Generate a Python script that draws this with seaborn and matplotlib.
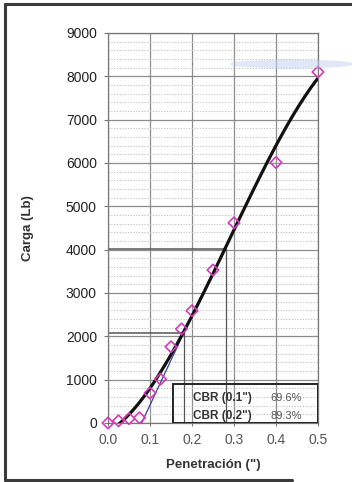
import numpy as np
import pandas as pd
import seaborn as sns
import matplotlib.pyplot as plt
from matplotlib.lines import Line2D
from matplotlib.patches import Rectangle, Ellipse
from matplotlib.ticker import MultipleLocator

# Load-penetration readings of the CBR test
penetracion = [0.0, 0.025, 0.05, 0.075, 0.1, 0.125, 0.15, 0.175, 0.2, 0.25, 0.3, 0.4, 0.5]
carga = [0, 50, 100, 120, 690, 1010, 1760, 2170, 2590, 3530, 4620, 6010, 8100]

# CBR results and the standard loads they refer to (lb)
cbr_labels = ['CBR (0.1")', 'CBR (0.2")']
cbr_values = [69.6, 89.3]
cbr_nominal_pen = [0.1, 0.2]
standard_loads = [3000, 4500]

# Zero correction: tangent through the straight part of the curve
tangent_x = [0.08, 0.22]
tangent_y = [0, 2900]
zero_shift = tangent_x[0]

x_ticks = [0.0, 0.1, 0.2, 0.3, 0.4, 0.5]
y_ticks = [0, 1000, 2000, 3000, 4000, 5000, 6000, 7000, 8000, 9000]

df = pd.DataFrame({"pen": penetracion, "carga": carga})

sns.set_theme(style="white")
plt.rcParams["font.family"] = ["Liberation Sans", "DejaVu Sans"]

W, H = 352, 482
fig = plt.figure(figsize=(W / 100, H / 100), dpi=100)
fig.patch.set_facecolor("white")
ax = fig.add_axes([108 / W, 1 - 423 / H, 210 / W, 390 / H])

ax.set_xlim(0, 0.5)
ax.set_ylim(0, 9000)
ax.set_xticks(x_ticks)
ax.set_xticklabels([f"{v:.1f}" for v in x_ticks])
ax.set_yticks(y_ticks)
ax.yaxis.set_minor_locator(MultipleLocator(200))

ax.grid(which="major", axis="both", color="#8c8c8c", lw=0.9)
ax.grid(which="minor", axis="y", color="#bdbdbd", lw=0.8, ls=(0, (1, 1.5)))
ax.set_axisbelow(True)
for s in ax.spines.values():
    s.set_color("#777777")
    s.set_linewidth(0.9)

ax.tick_params(axis="y", which="major", left=True, length=3, width=0.8, color="#777777",
               pad=5, labelsize=10, labelcolor="#222222")
ax.tick_params(axis="y", which="minor", left=False)
ax.tick_params(axis="x", which="major", bottom=True, length=2, width=0.8, color="#777777",
               pad=5, labelsize=10, labelcolor="#555555")

# Construction lines for the corrected CBR loads
for pen, pct, std in zip(cbr_nominal_pen, cbr_values, standard_loads):
    load = pct / 100 * std
    xc = pen + zero_shift
    ax.plot([0, xc], [load, load], color="#555555", lw=1.1, zorder=1.5)
    ax.plot([xc, xc], [0, load], color="#555555", lw=0.9, zorder=1.5)

# Tangent line
ax.plot(tangent_x, tangent_y, color="#3a3f9a", lw=0.9, zorder=2)

# Polynomial trend of the readings
sns.regplot(data=df, x="pen", y="carga", order=3, ci=None, scatter=False,
            line_kws=dict(color="#111111", lw=2.3, zorder=3), ax=ax)

# Readings
sns.scatterplot(data=df, x="pen", y="carga", marker="D", s=34, fc="none",
                ec="#d23cb8", linewidth=1.2, zorder=4, clip_on=False, ax=ax)

# CBR result box
ax.add_patch(Rectangle((0.155, 0), 0.345, 900, fill=False, ec="#222222", lw=1.4, zorder=5))
row_y = [580, 165]
for lbl, val, yy in zip(cbr_labels, cbr_values, row_y):
    ax.text(0.203, yy, lbl, fontsize=8.5, fontweight="bold", color="#333333",
            ha="left", va="center", zorder=6)
    ax.text(0.386, yy, f"{val:.1f}%", fontsize=8, color="#555555",
            ha="left", va="center", zorder=6)

ax.set_xlabel('Penetración (")', fontsize=9.5, fontweight="bold", color="#333333")
ax.set_ylabel("Carga (Lb)", fontsize=9.5, fontweight="bold", color="#333333")
ax.xaxis.set_label_coords(0.5, -0.092)
ax.yaxis.set_label_coords(-0.352, 0.5)

# Light blue highlighter stroke near the top
fig.patches.append(Ellipse((292 / W, 1 - 64 / H), 125 / W, 9 / H, transform=fig.transFigure,
                           fc="#c3d0ee", ec="none", alpha=0.5, zorder=0.5))

# Page frame
frame_kw = dict(transform=fig.transFigure, color="#3a3a3a", lw=2.2)
fig.lines.append(Line2D([5 / W, 5 / W], [1 - 4 / H, 1 - 480 / H], **frame_kw))
fig.lines.append(Line2D([5 / W, 352 / W], [1 - 4 / H, 1 - 4 / H], **frame_kw))
fig.lines.append(Line2D([5 / W, 292 / W], [1 - 480 / H, 1 - 480 / H], **frame_kw))

fig.savefig("out.png", dpi=100, facecolor="white")
